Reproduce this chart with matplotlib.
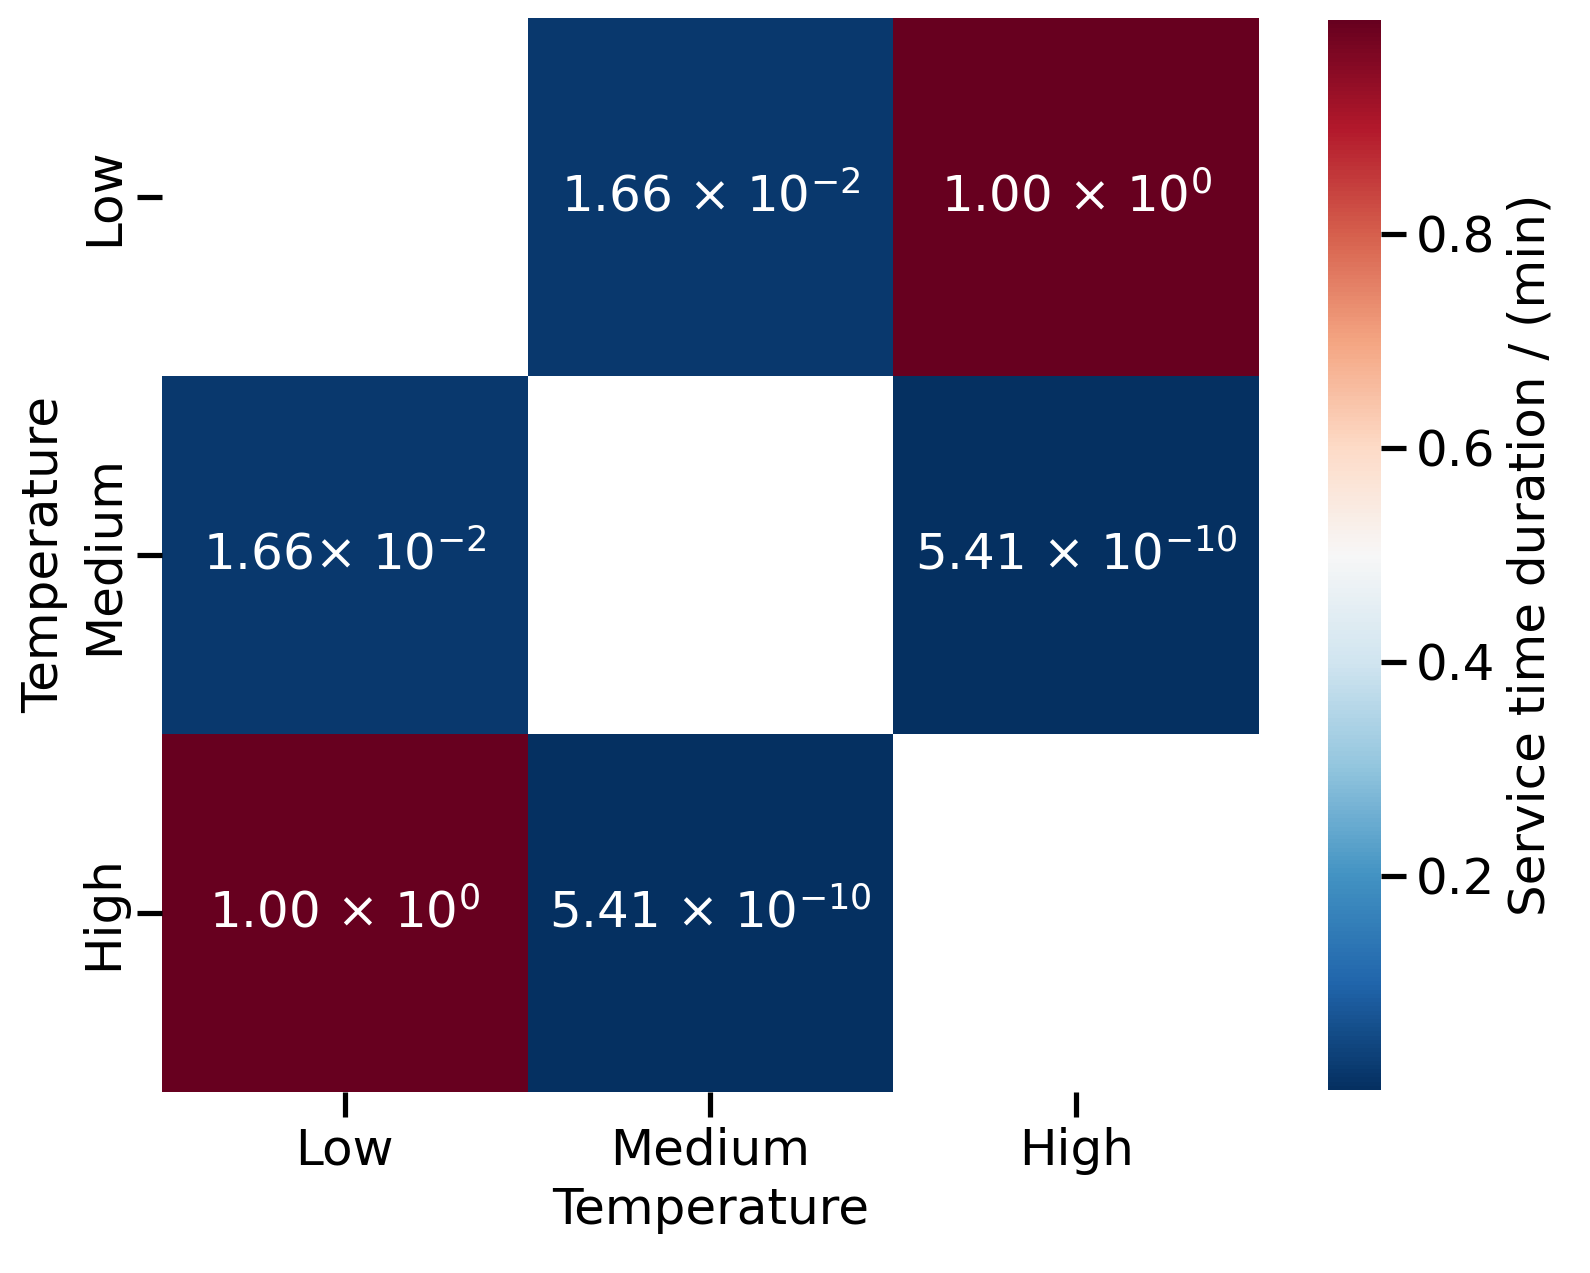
import numpy as np
import pandas as pd
import matplotlib
matplotlib.use("Agg")
import matplotlib.pyplot as plt
import seaborn as sns

# categories and values (diagonal left empty)
levels = ["Low", "Medium", "High"]
row_low = [np.nan, 1.66e-2, 1.00e0]
row_medium = [1.66e-2, np.nan, 5.41e-10]
row_high = [1.00e0, 5.41e-10, np.nan]

annot_low = ["", "1.66 × 10$^{-2}$", "1.00 × 10$^{0}$"]
annot_medium = ["1.66× 10$^{-2}$", "", "5.41 × 10$^{-10}$"]
annot_high = ["1.00 × 10$^{0}$", "5.41 × 10$^{-10}$", ""]

data = pd.DataFrame([row_low, row_medium, row_high], index=levels, columns=levels)
annot = np.array([annot_low, annot_medium, annot_high])

sns.set_context("talk")
plt.rcParams["mathtext.default"] = "regular"

fig = plt.figure(figsize=(7.95, 6.365), dpi=200)
ax = fig.add_axes([0.1019, 0.1422, 0.6899, 0.8437])
cax = fig.add_axes([0.8352, 0.1438, 0.0333, 0.8405])

sns.heatmap(data, annot=annot, fmt="", cmap="RdBu_r", ax=ax, cbar_ax=cax,
            annot_kws={"color": "white", "fontsize": 18},
            cbar_kws={"label": "Service time duration / (min)"})

ax.set_xlabel("Temperature", fontsize=18)
ax.set_ylabel("Temperature", fontsize=18)
ax.set_xticklabels(levels, fontsize=18)
ax.set_yticklabels(levels, rotation=90, va="center", fontsize=18)
cax.set_yticks([0.2, 0.4, 0.6, 0.8])
cax.tick_params(labelsize=18)
cax.yaxis.label.set_size(18)

fig.savefig("out.png", dpi=200)
